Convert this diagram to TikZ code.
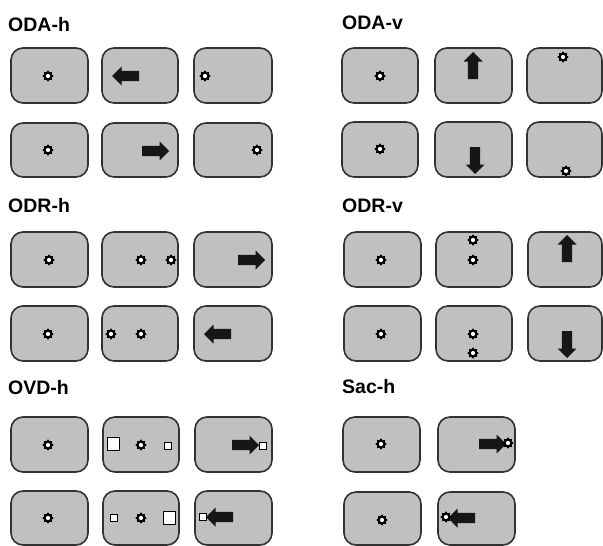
\documentclass[tikz,border=0pt]{standalone}
\usepackage{fontspec}
\setmainfont{Liberation Sans}
\begin{document}
\begin{tikzpicture}[x=1pt,y=1pt,
  panelsty/.style={draw=panelline,fill=panelfill,line width=1.6pt,rounded corners=12pt},
  titlesty/.style={font=\fontsize{19.5}{22}\selectfont\bfseries,anchor=base west,inner sep=0pt},
  sqsty/.style={draw=black,fill=white,line width=0.9pt}]
\definecolor{panelfill}{RGB}{192,192,192}
\definecolor{panelline}{RGB}{50,50,50}
\definecolor{arrowc}{RGB}{22,22,22}
\newcommand{\pnl}[4]{\draw[panelsty] (#1,-#2) rectangle (#3,-#4);}
\newcommand{\sunmark}[2]{%
  \begin{scope}[shift={(#1,-#2)}]
    \fill[black] (90:5.7) \foreach \i in {1,...,15}{ -- ({90+22.5*\i}:{ifthenelse(mod(\i,2)==1,4.1,5.7)}) } -- cycle;
    \fill[white] (0,0) circle (2.1);
  \end{scope}}
\newcommand{\bigarrow}[3]{%
  \begin{scope}[shift={(#1,-#2)},rotate=#3]
    \fill[arrowc] (0,-5.2) -- (17.5,-5.2) -- (17.5,-9.5) -- (27,0) -- (17.5,9.5) -- (17.5,5.2) -- (0,5.2) -- cycle;
  \end{scope}}
\newcommand{\sqmark}[3]{\draw[sqsty] (#1-#3,-#2-#3) rectangle (#1+#3,-#2+#3);}

\useasboundingbox (0,0) rectangle (603,-546);
\fill[white] (0,0) rectangle (603,-546);

% titles
\node[titlesty] (tODAh) at (8,-31) {ODA-h};
\node[titlesty] (tODAv) at (342,-30) {ODA-v};
\node[titlesty] (tODRh) at (8,-212) {ODR-h};
\node[titlesty] (tODRv) at (342,-212) {ODR-v};
\node[titlesty] (tOVDh) at (8,-394) {OVD-h};
\node[titlesty] (tSach) at (342,-393) {Sac-h};

% ---------- ODA-h ----------
\pnl{11}{48}{88}{103} \pnl{102}{48}{178}{103} \pnl{194}{48}{272}{103}
\pnl{11}{123}{88}{177} \pnl{102}{123}{178}{177} \pnl{194}{123}{272}{177}
\sunmark{48}{76}
\bigarrow{139}{76}{180}
\sunmark{205}{76}
\sunmark{48}{150}
\bigarrow{142}{151}{0}
\sunmark{257}{150}

% ---------- ODA-v ----------
\pnl{342}{48}{418}{103} \pnl{435}{48}{512}{103} \pnl{527}{48}{602}{103}
\pnl{342}{122}{418}{177} \pnl{435}{122}{512}{177} \pnl{527}{122}{602}{177}
\sunmark{380}{76}
\bigarrow{473}{79}{90}
\sunmark{563}{57}
\sunmark{380}{149}
\bigarrow{475}{147}{270}
\sunmark{566}{171}

% ---------- ODR-h ----------
\pnl{11}{232}{88}{287} \pnl{102}{232}{178}{287} \pnl{194}{232}{272}{287}
\pnl{11}{306}{88}{361} \pnl{102}{306}{178}{361} \pnl{194}{306}{272}{361}
\sunmark{49}{260}
\sunmark{141}{260} \sunmark{171}{260}
\bigarrow{238}{260}{0}
\sunmark{48}{334}
\sunmark{111}{334} \sunmark{141}{334}
\bigarrow{231}{334}{180}

% ---------- ODR-v ----------
\pnl{344}{232}{421}{287} \pnl{436}{232}{512}{287} \pnl{528}{232}{602}{287}
\pnl{344}{306}{421}{361} \pnl{436}{306}{512}{361} \pnl{528}{306}{602}{361}
\sunmark{381}{260}
\sunmark{473}{240} \sunmark{473}{260}
\bigarrow{567}{262}{90}
\sunmark{381}{334}
\sunmark{473}{334} \sunmark{473}{353}
\bigarrow{567}{331}{270}

% ---------- OVD-h ----------
\pnl{11}{417}{88}{472} \pnl{103}{417}{179}{472} \pnl{195}{417}{272}{472}
\pnl{11}{491}{88}{545} \pnl{103}{491}{179}{545} \pnl{195}{491}{272}{545}
\sunmark{48}{445}
\sqmark{113.5}{444}{6.3} \sunmark{141}{445} \sqmark{168}{446}{3.2}
\bigarrow{232}{445}{0} \sqmark{263}{446}{3.2}
\sunmark{48}{518}
\sqmark{114}{518}{3.2} \sunmark{141}{518} \sqmark{169.5}{518}{6.3}
\bigarrow{233}{517}{180} \sqmark{203}{517}{3.2}

% ---------- Sac-h ----------
\pnl{343}{417}{420}{472} \pnl{438}{417}{515}{472}
\pnl{344}{492}{421}{545} \pnl{438}{492}{515}{545}
\sunmark{381}{444}
\bigarrow{479}{444}{0} \sunmark{508}{443}
\sunmark{382}{520}
\bigarrow{475}{518}{180} \sunmark{446}{517}
\end{tikzpicture}
\end{document}
